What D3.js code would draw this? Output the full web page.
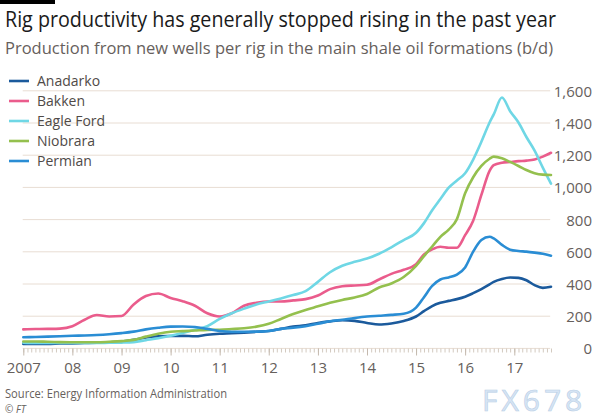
<!DOCTYPE html>
<html>
<head>
<meta charset="utf-8">
<script src="https://cdn.jsdelivr.net/npm/d3@7"></script>
<style>
  body { margin: 0; background: #ffffff; }
  svg { display: block; }
  text { font-family: "Open Sans", "Noto Sans", sans-serif; }
</style>
</head>
<body>
<svg id="chart" width="600" height="420"></svg>
<script>
// ---------------- DATA ----------------
const titleText = "Rig productivity has generally stopped rising in the past year";
const subtitleText = "Production from new wells per rig in the main shale oil formations (b/d)";
const sourceText = "Source: Energy Information Administration";

const dates = [
  "2007-01","2007-04","2007-07","2007-10",
  "2008-01","2008-04","2008-07","2008-10",
  "2009-01","2009-04","2009-07","2009-10",
  "2010-01","2010-04","2010-07","2010-10",
  "2011-01","2011-04","2011-07","2011-10",
  "2012-01","2012-04","2012-07","2012-10",
  "2013-01","2013-04","2013-07","2013-10",
  "2014-01","2014-04","2014-07","2014-10",
  "2015-01","2015-03","2015-05","2015-07","2015-09","2015-11",
  "2016-01","2016-03","2016-05","2016-07","2016-08","2016-10","2016-12",
  "2017-02","2017-04","2017-06","2017-08","2017-10"
];

const seriesNames = ["Anadarko", "Bakken", "Eagle Ford", "Niobrara", "Permian"];

const anadarko = [24,25,25,27, 28,30,32,35, 40,50,65,72, 74,75,72,82,
  88,91,95,100, 105,118,132,140, 155,165,172,168, 155,145,152,167,
  195,228,260,280,292,303, 318,340,365,395,410,428,437, 435,420,390,373,380];

const bakken = [115,117,118,120, 135,175,204,195, 198,270,322,338, 310,290,262,215,
  195,215,262,280, 288,288,295,303, 325,365,383,388, 392,425,460,485,
  520,580,612,628,622,622, 700,790,950,1100,1135,1150,1155, 1160,1163,1170,1188,1212];

const eagleFord = [32,30,30,30, 30,30,30,32, 33,36,48,60, 76,92,112,135,
  180,215,244,270, 288,307,328,352, 410,470,510,535, 555,585,625,670,
  715,775,855,925,995,1040, 1085,1170,1280,1400,1450,1555,1470, 1400,1310,1225,1120,1020];

const niobrara = [40,40,38,36, 35,35,35,38, 42,50,70,88, 100,104,108,112,
  113,117,122,132, 150,180,210,236, 258,280,298,313, 335,375,400,440,
  510,570,630,690,735,800, 960,1060,1130,1175,1188,1178,1155, 1130,1105,1085,1076,1074];

const permian = [66,68,70,72, 75,77,80,85, 92,101,115,125, 132,133,130,118,
  105,100,100,101, 105,118,125,135, 150,165,175,186, 195,200,205,212,
  250,315,385,425,438,455, 500,598,670,690,680,640,610, 602,598,592,585,573];

const seriesValues = [anadarko, bakken, eagleFord, niobrara, permian];
const seriesColors = ["#1b5a9c", "#ea5c8c", "#6fd7e5", "#94c04e", "#2a8dd4"];

const yTicks = [0, 200, 400, 600, 800, 1000, 1200, 1400, 1600];
const xStart = "2007-01", xEnd = "2017-10";

// ---------------- CHART ----------------
const svg = d3.select("#chart");
const parse = d3.timeParse("%Y-%m");

svg.append("rect").attr("width", 600).attr("height", 420).attr("fill", "#ffffff");
svg.append("rect").attr("x", 0).attr("y", 0).attr("width", 55).attr("height", 4).attr("fill", "#000");

svg.append("text").attr("x", 5).attr("y", 27)
  .attr("font-size", 21).attr("fill", "#1a1a1a")
  .attr("textLength", 551).attr("lengthAdjust", "spacingAndGlyphs")
  .text(titleText);
svg.append("text").attr("x", 5).attr("y", 54)
  .attr("font-size", 16.5).attr("fill", "#66605c")
  .attr("textLength", 548).attr("lengthAdjust", "spacingAndGlyphs")
  .text(subtitleText);

const x = d3.scaleTime().domain([parse(xStart), parse(xEnd)]).range([23.3, 551]);
const y = d3.scaleLinear().domain([0, 1600]).range([347.9, 90.3]);

// gridlines
const grid = svg.append("g").attr("transform", "translate(22.7,0)")
  .call(d3.axisRight(y).tickValues(yTicks).tickSize(527.5).tickFormat(""));
grid.select(".domain").remove();
grid.selectAll("line").attr("stroke", "#e8ddd3").attr("stroke-width", 1);

// y labels on right
const yAx = svg.append("g").attr("transform", "translate(592,0)")
  .call(d3.axisLeft(y).tickValues(yTicks).tickSize(0).tickPadding(0).tickFormat(d3.format(",")));
yAx.select(".domain").remove();
yAx.selectAll("text").attr("font-size", 15).attr("fill", "#66605c")
  .attr("font-family", "'Open Sans', sans-serif").attr("dy", "0.4em");

// x axis: minor monthly ticks
const minor = svg.append("g").attr("transform", "translate(0,348.5)")
  .call(d3.axisBottom(x).ticks(d3.timeMonth.every(1)).tickSize(4).tickFormat(""));
minor.select(".domain").remove();
minor.selectAll("line").attr("stroke", "#d3cac0");

const major = svg.append("g").attr("transform", "translate(0,348.5)")
  .call(d3.axisBottom(x).ticks(d3.timeYear.every(1)).tickSize(7).tickPadding(7)
    .tickFormat(d => d.getFullYear() === 2007 ? "2007" : d3.timeFormat("%y")(d)));
major.select(".domain").remove();
major.selectAll("line").attr("stroke", "#c4b9ae");
major.selectAll("text").attr("font-size", 15).attr("fill", "#66605c")
  .attr("font-family", "'Open Sans', sans-serif");

// lines
const line = d3.line()
  .x((d, i) => x(parse(dates[i])))
  .y(d => y(d))
  .curve(d3.curveMonotoneX);

seriesValues.forEach((vals, k) => {
  svg.append("path").datum(vals)
    .attr("fill", "none")
    .attr("stroke", seriesColors[k])
    .attr("stroke-width", 2.6)
    .attr("stroke-linejoin", "round")
    .attr("stroke-linecap", "round")
    .attr("d", line);
});

// legend
const leg = svg.append("g");
seriesNames.forEach((name, k) => {
  const cy = 81 + k * 20;
  leg.append("line").attr("x1", 9).attr("x2", 29).attr("y1", cy).attr("y2", cy)
    .attr("stroke", seriesColors[k]).attr("stroke-width", 2.6);
  leg.append("text").attr("x", 37).attr("y", cy).attr("dy", "0.35em")
    .attr("font-size", 14).attr("fill", "#4f4a47").text(name);
});

// source
svg.append("text").attr("x", 5).attr("y", 398)
  .attr("font-size", 12).attr("fill", "#66605c")
  .attr("textLength", 222).attr("lengthAdjust", "spacingAndGlyphs")
  .text(sourceText);
svg.append("text").attr("x", 5).attr("y", 413)
  .attr("font-size", 10).attr("font-style", "italic").attr("fill", "#66605c").text("© FT");

// watermark
svg.append("text").attr("x", 482).attr("y", 411)
  .attr("font-size", 30).attr("letter-spacing", 4)
  .attr("font-family", "'DejaVu Sans', sans-serif")
  .attr("fill", "#d3e3f4").attr("stroke", "#b3cbe4").attr("stroke-width", 0.6)
  .attr("opacity", 0.9)
  .text("FX678");
</script>
</body>
</html>
